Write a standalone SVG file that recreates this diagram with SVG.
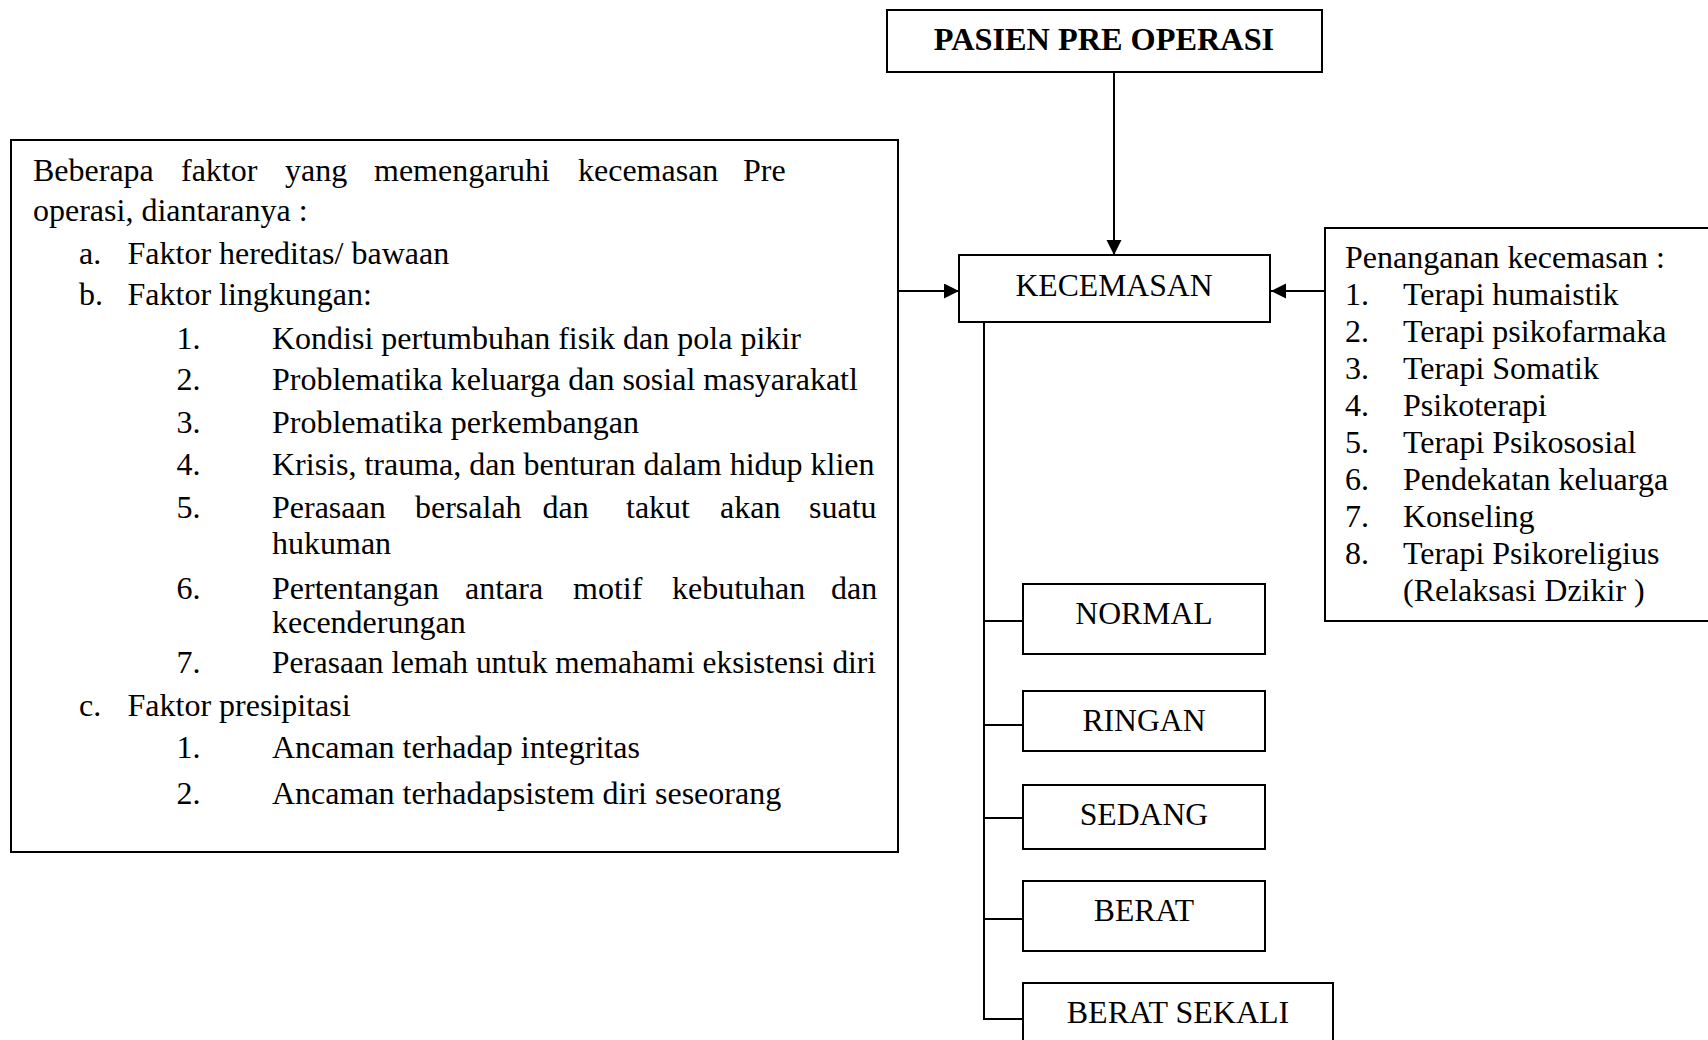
<svg xmlns="http://www.w3.org/2000/svg" width="1708" height="1040" viewBox="0 0 1708 1040">
<defs>
<style>
.box{fill:#fff;stroke:#000;stroke-width:2}
.t{font-family:"Liberation Serif","Times New Roman",serif;font-size:32px;fill:#000}
.lbl{font-family:"Liberation Serif","Times New Roman",serif;font-size:31.7px;fill:#000;text-anchor:middle}
.b{font-weight:bold}
.ln{fill:none;stroke:#000;stroke-width:2}
</style>
<marker id="arr" markerUnits="userSpaceOnUse" markerWidth="16" markerHeight="16" refX="15" refY="7.5" orient="auto">
<path d="M0,0 L15,7.5 L0,15 z" fill="#000"/>
</marker>
</defs>
<rect width="1708" height="1040" fill="#fff"/>

<g id="connectors">
<line class="ln" x1="1114" y1="72" x2="1114" y2="255" marker-end="url(#arr)"/>
<line class="ln" x1="898" y1="291" x2="959" y2="291" marker-end="url(#arr)"/>
<line class="ln" x1="1325" y1="291" x2="1271" y2="291" marker-end="url(#arr)"/>
<line class="ln" x1="984" y1="322" x2="984" y2="1020"/>
<line class="ln" x1="983" y1="621" x2="1023" y2="621"/>
<line class="ln" x1="983" y1="725" x2="1023" y2="725"/>
<line class="ln" x1="983" y1="818" x2="1023" y2="818"/>
<line class="ln" x1="983" y1="919" x2="1023" y2="919"/>
<line class="ln" x1="983" y1="1019" x2="1023" y2="1019"/>
</g>

<g id="pasien">
<rect class="box" x="887" y="10" width="435" height="62"/>
<text class="lbl b" x="1104" y="50" style="font-size:32.3px">PASIEN PRE OPERASI</text>
</g>

<g id="kecemasan">
<rect class="box" x="959" y="255" width="311" height="67"/>
<text class="lbl" x="1114" y="296">KECEMASAN</text>
</g>

<g id="faktor">
<rect class="box" x="11" y="140" width="887" height="712"/>
<text class="t" y="181"><tspan x="33">Beberapa</tspan><tspan x="181">faktor</tspan><tspan x="285">yang</tspan><tspan x="374">memengaruhi</tspan><tspan x="578">kecemasan</tspan><tspan x="743">Pre</tspan></text>
<text class="t" x="33" y="221">operasi, diantaranya :</text>
<text class="t" y="263.5"><tspan x="79">a.</tspan><tspan x="127.5">Faktor hereditas/ bawaan</tspan></text>
<text class="t" y="305"><tspan x="79">b.</tspan><tspan x="127.5">Faktor lingkungan:</tspan></text>
<text class="t" y="348.5"><tspan x="176.5">1.</tspan><tspan x="272">Kondisi pertumbuhan fisik dan pola pikir</tspan></text>
<text class="t" y="390"><tspan x="176.5">2.</tspan><tspan x="272">Problematika keluarga dan sosial masyarakatl</tspan></text>
<text class="t" y="432.5"><tspan x="176.5">3.</tspan><tspan x="272">Problematika perkembangan</tspan></text>
<text class="t" y="475"><tspan x="176.5">4.</tspan><tspan x="272">Krisis, trauma, dan benturan dalam hidup klien</tspan></text>
<text class="t" y="517.5"><tspan x="176.5">5.</tspan><tspan x="272">Perasaan</tspan><tspan x="415">bersalah</tspan><tspan x="542.5">dan</tspan><tspan x="626">takut</tspan><tspan x="720">akan</tspan><tspan x="809">suatu</tspan></text>
<text class="t" x="272" y="553.5">hukuman</text>
<text class="t" y="598.5"><tspan x="176.5">6.</tspan><tspan x="272">Pertentangan</tspan><tspan x="465">antara</tspan><tspan x="573">motif</tspan><tspan x="672">kebutuhan</tspan><tspan x="831">dan</tspan></text>
<text class="t" x="272" y="633">kecenderungan</text>
<text class="t" y="673"><tspan x="176.5">7.</tspan></text>
<text class="t" x="272" y="673" textLength="604" lengthAdjust="spacingAndGlyphs">Perasaan lemah untuk memahami eksistensi diri</text>
<text class="t" y="715.5"><tspan x="79">c.</tspan><tspan x="127.5">Faktor presipitasi</tspan></text>
<text class="t" y="758"><tspan x="176.5">1.</tspan><tspan x="272">Ancaman terhadap integritas</tspan></text>
<text class="t" y="804"><tspan x="176.5">2.</tspan><tspan x="272">Ancaman terhadapsistem diri seseorang</tspan></text>
</g>

<g id="penanganan">
<rect class="box" x="1325" y="228" width="420" height="393"/>
<text class="t" x="1345" y="267.5">Penanganan kecemasan :</text>
<text class="t" y="304.5"><tspan x="1345">1.</tspan><tspan x="1403">Terapi humaistik</tspan></text>
<text class="t" y="341.5"><tspan x="1345">2.</tspan><tspan x="1403">Terapi psikofarmaka</tspan></text>
<text class="t" y="378.5"><tspan x="1345">3.</tspan><tspan x="1403">Terapi Somatik</tspan></text>
<text class="t" y="415.5"><tspan x="1345">4.</tspan><tspan x="1403">Psikoterapi</tspan></text>
<text class="t" y="452.5"><tspan x="1345">5.</tspan><tspan x="1403">Terapi Psikososial</tspan></text>
<text class="t" y="489.5"><tspan x="1345">6.</tspan><tspan x="1403">Pendekatan keluarga</tspan></text>
<text class="t" y="526.5"><tspan x="1345">7.</tspan><tspan x="1403">Konseling</tspan></text>
<text class="t" y="563.5"><tspan x="1345">8.</tspan><tspan x="1403">Terapi Psikoreligius</tspan></text>
<text class="t" x="1403" y="600.5">(Relaksasi Dzikir )</text>
</g>

<g id="normal">
<rect class="box" x="1023" y="584" width="242" height="70"/>
<text class="lbl" x="1144" y="624">NORMAL</text>
</g>
<g id="ringan">
<rect class="box" x="1023" y="691" width="242" height="60"/>
<text class="lbl" x="1144" y="731">RINGAN</text>
</g>
<g id="sedang">
<rect class="box" x="1023" y="785" width="242" height="64"/>
<text class="lbl" x="1144" y="825">SEDANG</text>
</g>
<g id="berat">
<rect class="box" x="1023" y="881" width="242" height="70"/>
<text class="lbl" x="1144" y="921">BERAT</text>
</g>
<g id="berat-sekali">
<rect class="box" x="1023" y="983" width="310" height="80"/>
<text class="lbl" x="1178" y="1023" style="font-size:32px">BERAT SEKALI</text>
</g>
</svg>
